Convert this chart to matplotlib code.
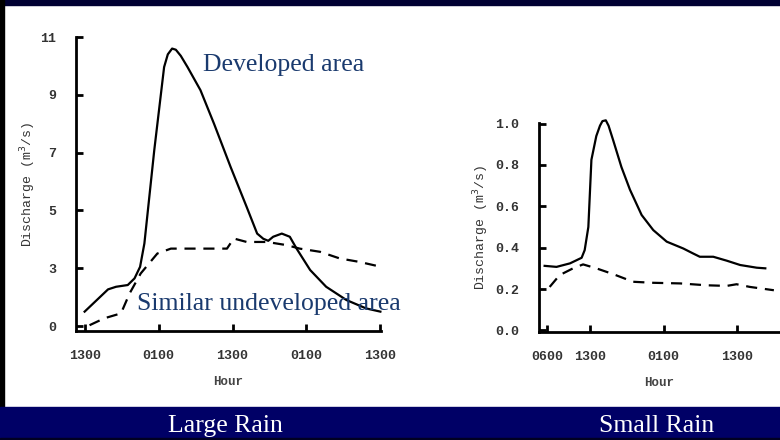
import matplotlib
matplotlib.use("Agg")
import matplotlib.pyplot as plt
from matplotlib.patches import Rectangle

# Large rain: hours after 1300 on day 1
large_dev_h = [0, 3.8, 5.1, 7.0, 8.1, 9.0, 9.7, 11.3, 12.9, 13.5, 14.2, 14.8, 15.6, 16.7, 18.8, 21.0,
               23.7, 26.3, 28.0, 29.0, 29.8, 30.6, 32.0, 33.3, 34.4, 36.6, 39.2, 42.5, 45.7, 48.0]
large_dev_q = [1.50, 2.27, 2.36, 2.42, 2.65, 3.05, 3.86, 7.08, 9.96, 10.4, 10.6, 10.56, 10.35, 9.96,
               9.16, 8.0, 6.5, 5.12, 4.2, 4.02, 3.95, 4.09, 4.2, 4.09, 3.68, 2.94, 2.36, 1.9, 1.61, 1.50]
large_und_h = [0.8, 3.2, 5.9, 7.3, 9.1, 11.8, 14.0, 18.8, 23.1, 24.2, 26.3, 29.6, 32.8, 34.9,
               38.2, 41.4, 44.6, 48.1]
large_und_q = [1.03, 1.27, 1.44, 2.13, 2.82, 3.51, 3.68, 3.68, 3.68, 4.03, 3.91, 3.91, 3.80, 3.68,
               3.57, 3.34, 3.22, 3.05]
large_xticks = [0, 12, 24, 36, 48]
large_xlabels = ["1300", "0100", "1300", "0100", "1300"]
large_yticks = [1, 3, 5, 7, 9, 11]
large_ylabels = ["0", "3", "5", "7", "9", "11"]

# Small rain: hours after 0600
small_dev_h = [-0.44, 1.5, 3.7, 5.6, 6.1, 6.7, 7.2, 8.0, 8.6, 9.0, 9.55, 10.0, 10.75, 12.1, 13.5,
               15.4, 17.3, 19.5, 22.2, 23.8, 24.9, 27.1, 29.3, 31.5, 34.2, 35.6]
small_dev_q = [0.312, 0.307, 0.324, 0.351, 0.388, 0.50, 0.825, 0.94, 0.99, 1.012, 1.016, 0.99, 0.92,
               0.79, 0.68, 0.558, 0.485, 0.429, 0.396, 0.372, 0.356, 0.356, 0.337, 0.316, 0.303, 0.30]
small_und_h = [0.38, 2.0, 4.2, 5.84, 8.0, 10.75, 14.0, 17.3, 21.7, 26.0, 29.3, 30.9, 33.1, 37.0]
small_und_q = [0.21, 0.267, 0.30, 0.319, 0.30, 0.272, 0.235, 0.23, 0.227, 0.218, 0.215, 0.223,
               0.21, 0.194]
small_xticks = [0, 7, 19, 31]
small_xlabels = ["0600", "1300", "0100", "1300"]
small_yticks = [0.0, 0.2, 0.4, 0.6, 0.8, 1.0]
small_ylabels = ["0.0", "0.2", "0.4", "0.6", "0.8", "1.0"]

W, H = 780, 440
fig = plt.figure(figsize=(7.8, 4.4), dpi=100)
fig.patch.set_facecolor("white")

# frame pieces
fig.add_artist(Rectangle((0, 1 - 5 / H), 1, 5 / H, transform=fig.transFigure, color="#000033", zorder=0))
fig.add_artist(Rectangle((0, 0), 4 / W, 1, transform=fig.transFigure, color="#000000", zorder=0))
fig.add_artist(Rectangle((0, 0), 1, 33 / H, transform=fig.transFigure, color="#000066", zorder=0))
fig.add_artist(Rectangle((0, 0), 1, 2 / H, transform=fig.transFigure, color="#000022", zorder=1))

tick_font = dict(family="Liberation Mono", size=9.5, weight="bold", color="#333333")


def style_axes(ax, xticks, xlabels, yticks, ylabels):
    for s in ["top", "right"]:
        ax.spines[s].set_visible(False)
    for s in ["left", "bottom"]:
        ax.spines[s].set_linewidth(2)
    ax.set_xticks(xticks)
    ax.set_xticklabels(xlabels, **tick_font)
    ax.set_yticks(yticks)
    ax.set_yticklabels(ylabels, **tick_font)
    ax.tick_params(direction="in", length=5, width=2)
    ax.tick_params(axis="x", pad=14)
    ax.tick_params(axis="y", pad=14)
    ax.set_xlabel("Hour", family="Liberation Mono", size=9, weight="bold", color="#444444", labelpad=10)
    ax.set_ylabel("Discharge (m$^3$/s)", family="Liberation Mono", size=9.5, color="#333333")


# Large rain chart
ax1 = fig.add_axes([76 / W, 1 - 331 / H, 305 / W, 294 / H])
ax1.plot(large_dev_h, large_dev_q, color="black", lw=1.6, clip_on=False)
ax1.plot(large_und_h, large_und_q, color="black", lw=1.6, dashes=(5, 3.5), clip_on=False)
ax1.set_xlim(-1.4, 48.1)
ax1.set_ylim(0.83, 11)
style_axes(ax1, large_xticks, large_xlabels, large_yticks, large_ylabels)
ax1.yaxis.set_label_coords(-0.125, 0.5)
ax1.text(0.417, 0.885, "Developed area", transform=ax1.transAxes, family="Liberation Serif",
         size=18.5, color="#1a3a6e")
ax1.text(0.2, 0.072, "Similar undeveloped area", transform=ax1.transAxes, family="Liberation Serif",
         size=18.5, color="#1a3a6e")

# Small rain chart
ax2 = fig.add_axes([539 / W, 1 - 332 / H, 241 / W, 209 / H])
ax2.plot(small_dev_h, small_dev_q, color="black", lw=1.6, clip_on=False)
ax2.plot(small_und_h, small_und_q, color="black", lw=1.6, dashes=(5, 3.5), clip_on=False)
ax2.set_xlim(-1.36, 38.0)
ax2.set_ylim(-0.008, 1.003)
style_axes(ax2, small_xticks, small_xlabels, small_yticks, small_ylabels)
ax2.yaxis.set_label_coords(-0.2, 0.5)

fig.text(225 / W, 14 / H, "Large Rain", family="Liberation Serif", size=18.5, color="white",
         ha="center", va="center")
fig.text(657 / W, 14 / H, "Small Rain", family="Liberation Serif", size=18.5, color="white",
         ha="center", va="center")

fig.savefig("out.png", dpi=100)
